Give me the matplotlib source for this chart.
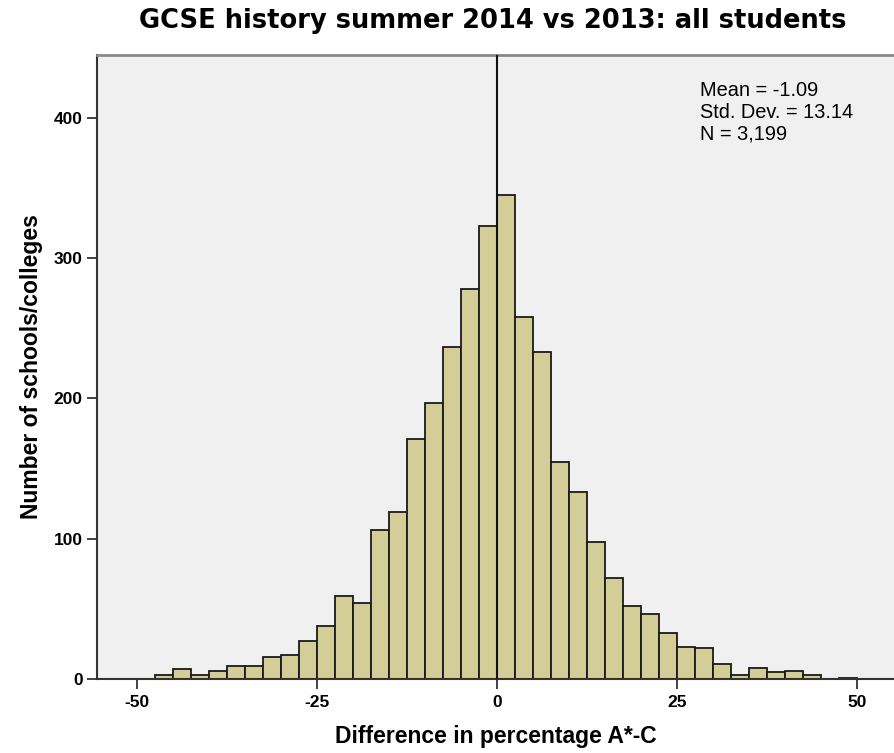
import numpy as np
import matplotlib
matplotlib.use("Agg")
import matplotlib.pyplot as plt

# Histogram of school/college changes in A*-C percentage (bin width 2.5)
bin_edges = np.arange(-47.5, 50.01, 2.5)
counts = [3, 7, 3, 6, 9, 9, 16, 17, 27, 38, 59, 54,
          106, 119, 171, 197, 237, 278, 323,
          345, 258, 233, 155, 133, 98, 72, 52, 46, 33,
          23, 22, 11, 3, 8, 5, 6, 3, 0, 1]
x_ticks = [-50, -25, 0, 25, 50]
y_ticks = [0, 100, 200, 300, 400]
stats_lines = ["Mean = -1.09", "Std. Dev. = 13.14", "N = 3,199"]

title = "GCSE history summer 2014 vs 2013: all students"
x_label = "Difference in percentage A*-C"
y_label = "Number of schools/colleges"

plt.rcParams['font.family'] = ['Liberation Sans', 'DejaVu Sans']

W, H = 895, 753
fig = plt.figure(figsize=(W / 100, H / 100), dpi=100)
ax = fig.add_axes([97 / W, 1 - 679 / H, (W - 97) / W, (679 - 55) / H])
ax.set_facecolor('#F0F0F0')

ax.bar(bin_edges[:-1], counts, width=np.diff(bin_edges), align='edge',
       color='#D3CE98', edgecolor='#1a1a1a', linewidth=1.3, zorder=2)
ax.axvline(0, color='#111111', linewidth=1.5, zorder=3)

ax.set_xlim(-55.6, 55.3)
ax.set_ylim(0, 444.8)
ax.set_xticks(x_ticks)
ax.set_yticks(y_ticks)
ax.set_xticklabels([str(t) for t in x_ticks], fontsize=12.5, fontweight='bold')
ax.set_yticklabels([str(t) for t in y_ticks], fontsize=12.5, fontweight='bold')
ax.tick_params(axis='x', length=7.2, width=1.3, color='#333333', pad=4)
ax.tick_params(axis='y', length=7.2, width=1.3, color='#333333', pad=3)

for side in ['left', 'bottom']:
    ax.spines[side].set_color('#333333')
    ax.spines[side].set_linewidth(1.5)
ax.spines['top'].set_color('#888888')
ax.spines['top'].set_linewidth(2)
ax.spines['right'].set_visible(False)

ax.set_xlabel(x_label, fontsize=16.5, fontweight='bold', labelpad=11)
ax.set_ylabel(y_label, fontsize=16.5, fontweight='bold', labelpad=8)

fig.text(492.5 / W, 1 - 28.5 / H, title, ha='center', va='baseline',
         fontsize=18.5, fontweight='bold', family=['DejaVu Sans'])

# summary statistics, one line each
for i, line in enumerate(stats_lines):
    fig.text(700 / W, 1 - (96 + 22 * i) / H, line, ha='left', va='baseline',
             fontsize=14.4)

fig.savefig("out.png", dpi=100)
